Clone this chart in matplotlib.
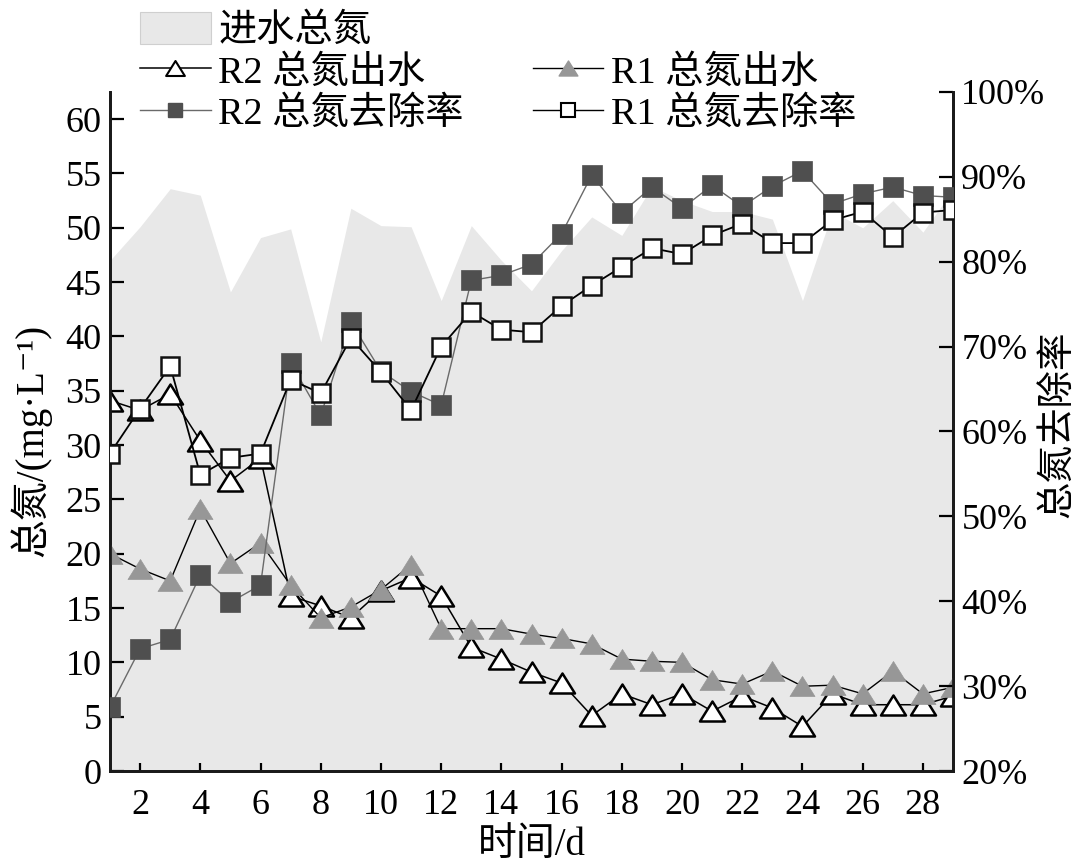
import matplotlib
matplotlib.use('Agg')
import matplotlib.pyplot as plt
from matplotlib.lines import Line2D
from matplotlib.patches import Patch
from matplotlib.path import Path
from matplotlib.ticker import FuncFormatter, MultipleLocator

plt.rcParams['font.family'] = ['Liberation Serif', 'Noto Sans CJK SC', 'DejaVu Sans']

# 数据
days = list(range(1, 30))
inflow_tn = [47.0, 50.1, 53.6, 53.0, 44.1, 49.1, 49.9, 39.5, 51.8, 50.2,
             50.1, 43.3, 50.2, 47.0, 44.2, 47.9, 51.0, 49.3, 53.8, 52.5,
             51.5, 51.5, 50.8, 43.3, 51.5, 50.0, 52.5, 49.6, 53.5]
r2_out = [34.1, 33.2, 34.7, 30.4, 26.7, 28.8, 16.1, 15.2, 14.1, 16.6,
          17.8, 16.1, 11.4, 10.3, 9.1, 8.1, 5.1, 7.1, 6.1, 7.1,
          5.5, 6.9, 5.8, 4.1, 7.1, 6.1, 6.1, 6.1, 6.9]
r1_out = [20.0, 18.6, 17.5, 24.1, 19.1, 21.0, 17.1, 14.1, 15.1, 16.7,
          19.0, 13.1, 13.1, 13.1, 12.6, 12.2, 11.7, 10.3, 10.1, 10.0,
          8.4, 8.0, 9.2, 7.8, 7.9, 7.1, 9.2, 7.1, 7.7]
r2_rate = [27.5, 34.4, 35.5, 43.1, 39.9, 41.9, 68.1, 61.9, 72.9, 67.1,
           64.7, 63.1, 77.8, 78.4, 79.7, 83.3, 90.2, 85.8, 88.8, 86.3,
           89.0, 86.5, 88.9, 90.7, 86.8, 88.0, 88.8, 87.8, 87.6]
r1_rate = [57.4, 62.7, 67.7, 54.9, 56.9, 57.4, 66.1, 64.5, 71.0, 67.0,
           62.5, 70.0, 74.1, 72.0, 71.7, 74.8, 77.2, 79.4, 81.6, 80.9,
           83.1, 84.5, 82.2, 82.2, 84.9, 85.9, 82.9, 85.8, 86.1]

fill_c = '#e8e8e8'
gray_tri = '#979797'
dark_sq = '#4f4f4f'
tri = Path([(0, 0.8), (-1, -0.8), (1, -0.8), (0, 0.8)], closed=True)

fig = plt.figure(figsize=(10.8, 8.63), dpi=100)
ax = fig.add_axes([110 / 1080, 1 - 771 / 863, 843 / 1080, 679 / 863])
ax2 = ax.twinx()

ax.fill_between(days, 0, inflow_tn, color=fill_c, lw=0, zorder=1)
ax.plot(days, r2_out, color='black', lw=1.1, marker=tri, ms=18,
        mfc='white', mec='black', mew=1.8, zorder=3)
ax.plot(days, r1_out, color='black', lw=1.0, marker=tri, ms=18,
        mfc=gray_tri, mec=gray_tri, mew=0.5, zorder=4)
ax2.plot(days, r2_rate, color='#6a6a6a', lw=1.0, marker='s', ms=13.7,
         mfc=dark_sq, mec=dark_sq, mew=0.5, zorder=3)
ax2.plot(days, r1_rate, color='black', lw=1.3, marker='s', ms=12.5,
         mfc='white', mec='#111111', mew=1.8, zorder=4)

ax.set_xlim(1, 29)
ax.set_ylim(0, 62.5)
ax2.set_ylim(20, 100)
ax.xaxis.set_major_locator(MultipleLocator(2))
ax.yaxis.set_major_locator(MultipleLocator(5))
ax2.yaxis.set_major_locator(MultipleLocator(10))
ax2.yaxis.set_major_formatter(FuncFormatter(lambda v, p: f'{int(v)}%'))

for a in (ax, ax2):
    a.spines['top'].set_visible(False)
    for s in a.spines.values():
        s.set_linewidth(2.0)
        s.set_color('#1a1a1a')
ax.tick_params(axis='y', direction='in', length=10, width=1.6, labelsize=26, pad=6)
ax.tick_params(axis='x', direction='in', length=6, width=1.6, labelsize=26, pad=13)
ax2.tick_params(axis='y', direction='in', length=10, width=1.6, labelsize=26, pad=6)

ax.set_xlabel('时间/d', fontsize=28)
ax.set_ylabel('总氮/(mg·L⁻¹)', fontsize=28)
ax2.set_ylabel('总氮去除率', fontsize=27)
ax.xaxis.set_label_coords(0.5, -0.083)
ax.yaxis.set_label_coords(-0.07, 0.487)
ax2.yaxis.set_label_coords(1.104, 0.51)

handles = [
    Patch(facecolor=fill_c, edgecolor='#cfcfcf', lw=0.8),
    Line2D([], [], color='black', lw=1.1, marker=tri, ms=18, mfc='white', mec='black', mew=1.5),
    Line2D([], [], color='#6a6a6a', lw=1.0, marker='s', ms=13.7, mfc=dark_sq, mec=dark_sq),
    Line2D([], [], linestyle='none', marker='none'),
    Line2D([], [], color='black', lw=1.0, marker=tri, ms=18, mfc=gray_tri, mec=gray_tri),
    Line2D([], [], color='black', lw=1.0, marker='s', ms=12.5, mfc='white', mec='black', mew=1.5),
]
labels = ['进水总氮', 'R2 总氮出水', 'R2 总氮去除率', '', 'R1 总氮出水', 'R1 总氮去除率']
fig.legend(handles, labels, loc='upper left', bbox_to_anchor=(140 / 1080, 1 - 12 / 863),
           ncol=2, frameon=False, fontsize=27.5, handlelength=1.85, handleheight=0.9,
           handletextpad=0.2, labelspacing=0.12, columnspacing=1.8, borderpad=0,
           borderaxespad=0, markerscale=0.75)

fig.savefig('out.png', dpi=100)
